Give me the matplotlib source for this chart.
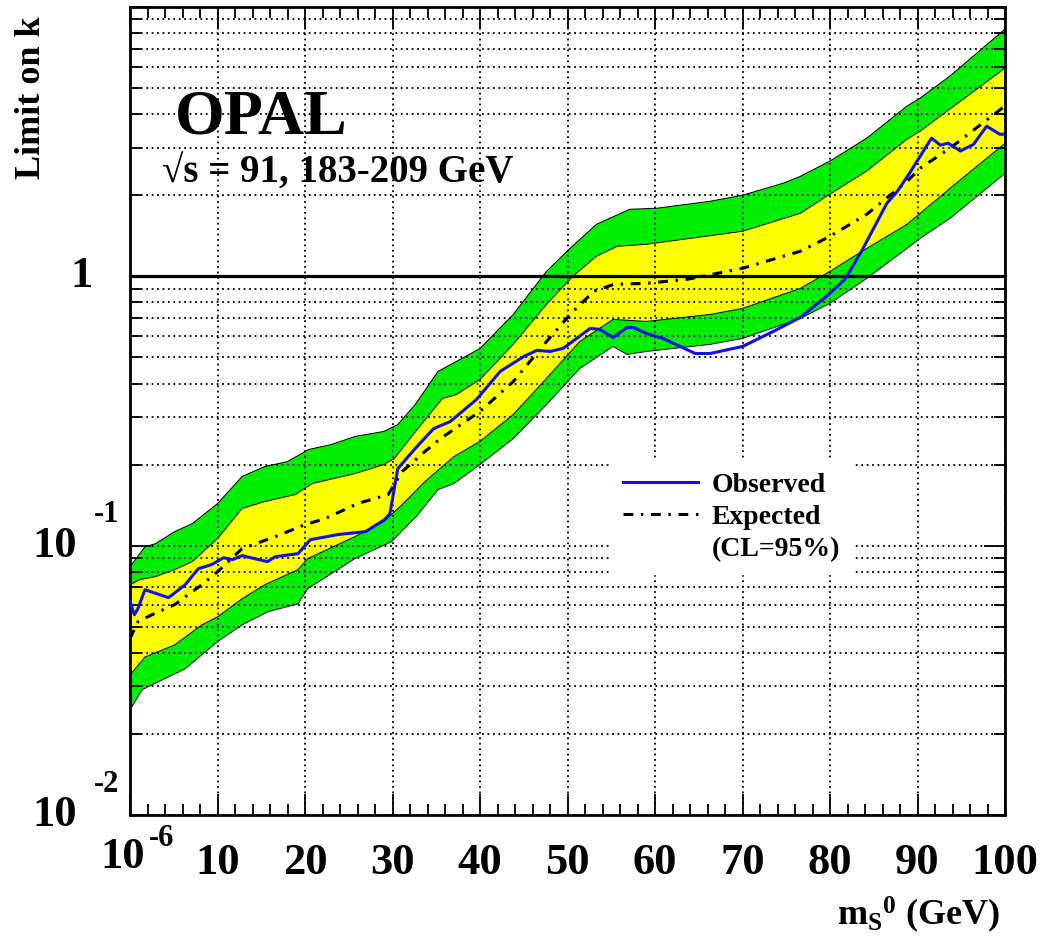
import matplotlib
matplotlib.use("Agg")
import matplotlib.pyplot as plt
from matplotlib.lines import Line2D
import numpy as np

plt.rcParams['font.family'] = ['Liberation Serif', 'DejaVu Serif']
plt.rcParams['font.weight'] = 'bold'
plt.rcParams['mathtext.fontset'] = 'custom'
plt.rcParams['mathtext.rm'] = 'Liberation Serif:bold'
plt.rcParams['mathtext.it'] = 'Liberation Serif:bold'
plt.rcParams['mathtext.bf'] = 'Liberation Serif:bold'

# +2 sigma (green top)
up2_x = [0, 1.7, 2.9, 5.1, 7.1, 10, 12.8, 15.4, 18, 20.4, 23, 25.7, 29, 30.6, 32.6, 35.2, 37.3,
         40, 43.8, 47.6, 50.3, 53.3, 57.1, 60.2, 66.3, 70, 74.7, 76.6, 80, 84.2, 88.8, 90.3, 93.7, 100]
up2_y = [0.0835, 0.099, 0.1017, 0.1127, 0.1207, 0.1433, 0.1806, 0.1967, 0.2052, 0.2275, 0.2374,
         0.2543, 0.2655, 0.2818, 0.3344, 0.4435, 0.4831, 0.5397, 0.7225, 1.044, 1.271, 1.56, 1.774,
         1.79, 1.90, 2.0, 2.22, 2.35, 2.68, 3.26, 4.29, 4.59, 5.54, 8.28]

# +1 sigma (yellow top)
up1_x = [0, 1.1, 2.9, 5.1, 7.1, 10, 12.8, 15.4, 18.9, 20.8, 25.7, 29, 30.2, 32.9, 35.7, 37.3, 40,
         43.8, 47.6, 50.6, 53.3, 55.7, 59, 70, 76.6, 80, 84.2, 88.8, 90.3, 93.7, 100]
up1_y = [0.0716, 0.0748, 0.0767, 0.0815, 0.0872, 0.1062, 0.1374, 0.1458, 0.1548, 0.170, 0.1852,
         0.200, 0.2106, 0.272, 0.3518, 0.364, 0.414, 0.559, 0.787, 1.0, 1.187, 1.293, 1.315, 1.47,
         1.714, 2.02, 2.46, 3.23, 3.46, 4.18, 5.93]

# expected (median)
exp_x = [0, 0.9, 2.5, 5.1, 8.2, 10, 12.8, 16.6, 20, 22.3, 26, 29.5, 31.1, 33.7, 35.5, 40, 43.8,
         47.6, 50.3, 53, 55.3, 59, 63.7, 70, 76.6, 80, 84.2, 88.8, 90.3, 93.7, 100]
exp_y = [0.0451, 0.0522, 0.0554, 0.0604, 0.0716, 0.080, 0.0975, 0.108, 0.1197, 0.126, 0.1433,
         0.1548, 0.1884, 0.2236, 0.250, 0.315, 0.407, 0.573, 0.722, 0.880, 0.934, 0.942, 0.975,
         1.071, 1.239, 1.408, 1.70, 2.25, 2.52, 2.99, 4.29]

# -1 sigma (yellow bottom)
lo1_x = [0, 1.7, 5.1, 8.2, 10, 12.8, 15.4, 19.2, 20.3, 25.7, 29, 31.1, 33.7, 37, 40, 43.8, 47.6,
         51.4, 55.2, 59, 66.3, 70, 76.6, 80, 84.2, 88.8, 90.3, 93.7, 100]
lo1_y = [0.0331, 0.0386, 0.0428, 0.0508, 0.0544, 0.0635, 0.0716, 0.0815, 0.0895, 0.108, 0.1228,
         0.142, 0.173, 0.214, 0.244, 0.307, 0.418, 0.573, 0.692, 0.680, 0.722, 0.760, 0.902,
         1.044, 1.27, 1.56, 1.714, 2.12, 3.12]

# -2 sigma (green bottom)
lo2_x = [0, 1.4, 3.2, 6.3, 10, 12.8, 15.8, 19.2, 20.3, 25.7, 29.9, 32.9, 35.2, 37, 40, 43.8, 47.6,
         51.4, 55.2, 56.8, 59, 66.3, 70, 76.6, 80, 84.2, 88.8, 90.3, 93.7, 100]
lo2_y = [0.0246, 0.0292, 0.0312, 0.0349, 0.044, 0.0508, 0.0569, 0.0608, 0.0692, 0.0895, 0.1035,
         0.1303, 0.1615, 0.170, 0.200, 0.250, 0.334, 0.455, 0.549, 0.513, 0.526, 0.559, 0.588,
         0.698, 0.794, 0.983, 1.27, 1.384, 1.64, 2.41]

# observed
obs_x = [0, 0.5, 0.9, 1.7, 4.4, 6.3, 7.8, 9.3, 10.7, 11.7, 12.8, 15.7, 16.6, 19.2, 20.6, 23.8,
         26.9, 29.1, 29.7, 30.6, 32.6, 34.7, 36.6, 39.6, 42.3, 45, 46.5, 48, 49.5, 52.6, 53.7, 55.2,
         56.8, 57.5, 59, 60.9, 64.6, 66.3, 70, 73.5, 76.6, 79.6, 81.7, 83.6, 86.5, 87.7, 89, 91.6,
         92.6, 93.5, 94.9, 96.4, 97.9, 99.4, 100]
obs_y = [0.0619, 0.0554, 0.0583, 0.0686, 0.0641, 0.0716, 0.0821, 0.0850, 0.0902, 0.0887, 0.0918,
         0.0872, 0.0910, 0.0934, 0.1052, 0.110, 0.1127, 0.125, 0.1315, 0.1932, 0.2296, 0.272,
         0.289, 0.349, 0.4435, 0.504, 0.531, 0.526, 0.540, 0.641, 0.635, 0.593, 0.646, 0.646,
         0.614, 0.588, 0.517, 0.517, 0.549, 0.624, 0.704, 0.843, 0.975, 1.239, 1.868, 2.07, 2.39,
         3.26, 3.07, 3.12, 2.92, 3.09, 3.61, 3.37, 3.37]

xtick_labels = ['', '10', '20', '30', '40', '50', '60', '70', '80', '90', '100']

fig = plt.figure(figsize=(10.47, 9.46), dpi=100)
ax = fig.add_axes([0.1242, 0.1385, 0.8357, 0.8541])
ax.set_yscale('log')
ax.set_xlim(0, 100)
ax.set_ylim(0.01, 10)

# bands
ax.fill(np.r_[up2_x, lo2_x[::-1]], np.r_[up2_y, lo2_y[::-1]], color='#00ee00', lw=0, zorder=1)
ax.fill(np.r_[up1_x, lo1_x[::-1]], np.r_[up1_y, lo1_y[::-1]], color='#ffff00', lw=0, zorder=1.1)
for bx, by in [(up2_x, up2_y), (up1_x, up1_y), (lo1_x, lo1_y), (lo2_x, lo2_y)]:
    ax.plot(bx, by, color='black', lw=0.7, zorder=1.2)

dashdot = (0, (3.2, 2.5, 0.8, 2.5))
ax.axhline(1, color='black', lw=2.3, zorder=3)
ax.plot(exp_x, exp_y, color='black', lw=2.2, ls=dashdot, zorder=3)
ax.plot(obs_x, obs_y, color='#1010ee', lw=2.2, zorder=3.1)

# grid + ticks
ax.set_xticks(np.arange(0, 101, 10))
ax.set_xticks(np.arange(0, 101, 2), minor=True)
ax.set_xticklabels(xtick_labels, fontsize=32, fontweight='bold')
ax.set_yticklabels([], minor=True)
ax.set_yticklabels([])
ax.grid(True, which='major', axis='x', ls=(0, (1, 2)), color='black', lw=1.3)
ax.grid(True, which='both', axis='y', ls=(0, (1, 2)), color='black', lw=1.3)
ax.set_axisbelow(False)
ax.tick_params(which='major', direction='in', length=15, width=1.3, top=True, right=True, pad=20)
ax.tick_params(which='minor', direction='in', length=8, width=1.3, top=True, right=True)
ax.tick_params(axis='y', which='both', labelleft=False)
for s in ax.spines.values():
    s.set_linewidth(2)

# first x label 10^-6 (hyphen-style exponent)
ax.text(-0.008, -0.027, '10', transform=ax.transAxes, fontsize=32, fontweight='bold',
        ha='center', va='top')
ax.text(0.036, -0.011, '-6', transform=ax.transAxes, fontsize=22, fontweight='bold',
        ha='center', va='top')

# y labels
tr = ax.get_yaxis_transform()
ax.text(-0.055, 1, '1', transform=tr, fontsize=32, fontweight='bold', ha='center', va='center')
for val, ex in [(0.1, '-1'), (0.01, '-2')]:
    ax.text(-0.086, val, '10', transform=tr, fontsize=32, fontweight='bold', ha='center', va='center')
    ax.text(-0.027, val * 1.3, ex, transform=tr, fontsize=22, fontweight='bold', ha='center', va='center')

fig.text(0.030, 0.983, 'Limit on k', rotation=90, fontsize=26, fontweight='bold', ha='center', va='top')
fig.text(0.955, 0.022, r'm$_{\mathrm{S}}$$^{\mathrm{0}}$ (GeV)', fontsize=26, fontweight='bold',
         ha='right', va='baseline')

ax.text(0.051, 0.844, 'OPAL', transform=ax.transAxes, fontsize=46, fontweight='bold', va='baseline')
ax.text(0.037, 0.783, '\u221as = 91, 183-209 GeV', transform=ax.transAxes, fontsize=28,
        fontweight='bold', va='baseline')

handles = [Line2D([], [], color='#1010ee', lw=2.2),
           Line2D([], [], color='black', lw=2.2, ls=dashdot),
           Line2D([], [], color='none')]
leg = ax.legend(handles, ['Observed', 'Expected', '(CL=95%)'], loc='upper left',
                bbox_to_anchor=(0.535, 0.455), fontsize=20, frameon=True, fancybox=False,
                edgecolor='white', facecolor='white', framealpha=1, handlelength=2.7,
                handletextpad=0.5, labelspacing=0.25, borderpad=0.4)
leg.set_zorder(5)
for t in leg.get_texts():
    t.set_fontweight('bold')

fig.savefig('out.png', dpi=100)
